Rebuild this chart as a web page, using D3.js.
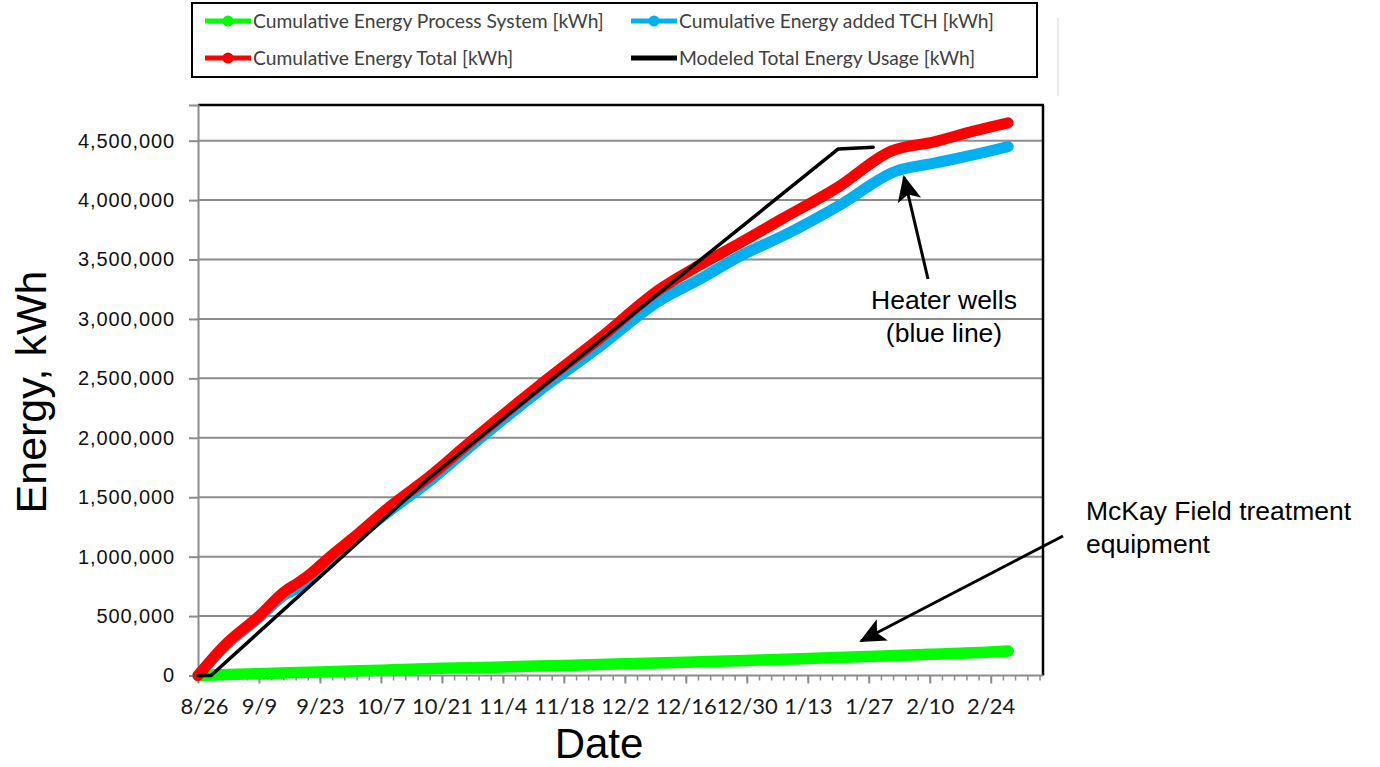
<!DOCTYPE html>
<html>
<head>
<meta charset="utf-8">
<script src="https://cdn.jsdelivr.net/npm/d3@7"></script>
<style>
  body { margin: 0; background: #fff; }
  svg { display: block; }
</style>
</head>
<body>
<svg id="chart" width="1380" height="767"></svg>
<script>
// ---- data (kWh, cumulative) ----
const seriesNames = [
  "Cumulative Energy Process System [kWh]",
  "Cumulative Energy added TCH [kWh]",
  "Cumulative Energy Total [kWh]",
  "Modeled Total Energy Usage [kWh]"
];
const seriesColors = ["#00ff00", "#00b0f0", "#ff0000", "#000000"];

const processDates = ["2014-08-26","2014-09-09","2014-09-23","2014-10-07","2014-10-21","2014-11-04","2014-11-18",
  "2014-12-02","2014-12-16","2014-12-30","2015-01-13","2015-01-27","2015-02-10","2015-02-24","2015-02-28"];
const processKWh = [0, 15000, 30000, 45000, 60000, 72000, 85000, 98000, 112000, 127000, 143000, 160000, 178000, 198000, 206000];

const tchDates = ["2014-08-26","2014-09-01","2014-09-09","2014-09-15","2014-09-18","2014-09-21","2014-09-25","2014-10-02",
  "2014-10-09","2014-10-18","2014-10-27","2014-11-12","2014-11-26","2014-12-10","2014-12-19","2014-12-28","2015-01-09",
  "2015-01-20","2015-02-02","2015-02-11","2015-02-20","2015-02-28"];
const tchKWh = [0, 240000, 485000, 680000, 735000, 815000, 955000, 1180000, 1385000, 1630000, 1910000, 2385000, 2760000,
  3155000, 3330000, 3520000, 3730000, 3950000, 4240000, 4310000, 4380000, 4450000];

const totalDates = ["2014-08-26","2014-09-01","2014-09-09","2014-09-15","2014-09-18","2014-09-21","2014-09-25","2014-10-02",
  "2014-10-09","2014-10-18","2014-10-27","2014-11-12","2014-11-26","2014-12-10","2014-12-19","2014-12-28","2015-01-07",
  "2015-01-20","2015-02-01","2015-02-11","2015-02-20","2015-02-28"];
const totalKWh = [0, 250000, 500000, 710000, 780000, 860000, 990000, 1200000, 1420000, 1670000, 1950000, 2430000, 2830000,
  3250000, 3450000, 3630000, 3840000, 4110000, 4410000, 4490000, 4580000, 4650000];

const modeledDates = ["2014-08-26","2014-08-29","2014-10-18","2015-01-20","2015-01-28"];
const modeledKWh = [0, 0, 1660000, 4430000, 4445000];

const xTickLabels = ["8/26","9/9","9/23","10/7","10/21","11/4","11/18","12/2","12/16","12/30","1/13","1/27","2/10","2/24"];
const yTickValues = [0, 500000, 1000000, 1500000, 2000000, 2500000, 3000000, 3500000, 4000000, 4500000];

// ---- layout ----
const plot = { left: 198, right: 1043, top: 105, bottom: 675.5 };
const svg = d3.select("#chart");
const parse = d3.timeParse("%Y-%m-%d");
const start = parse("2014-08-26");
const end = parse("2015-03-08");

const x = d3.scaleTime().domain([start, end]).range([plot.left, plot.right]);
const y = d3.scaleLinear().domain([0, 4800000]).range([plot.bottom, plot.top]);

// tick label "M/D" -> date in the season (Aug–Dec 2014, Jan–Mar 2015)
const labelDate = s => {
  const [m, d] = s.split("/").map(Number);
  return new Date(m >= 8 ? 2014 : 2015, m - 1, d);
};
const majorDates = xTickLabels.map(labelDate);
const minorDates = d3.range(0, 194, 2.8).map(k => d3.timeHour.offset(start, Math.round(k * 24)));

// ---- gridlines ----
svg.append("g")
  .selectAll("line")
  .data(yTickValues.filter(v => v > 0))
  .join("line")
  .attr("x1", plot.left).attr("x2", plot.right)
  .attr("y1", d => y(d)).attr("y2", d => y(d))
  .attr("stroke", "#8c8c8c").attr("stroke-width", 2);

// plot frame: top and right in black
svg.append("line").attr("x1", plot.left).attr("x2", plot.right + 1)
  .attr("y1", plot.top).attr("y2", plot.top).attr("stroke", "#000").attr("stroke-width", 2.5);
svg.append("line").attr("x1", plot.right).attr("x2", plot.right)
  .attr("y1", plot.top).attr("y2", plot.bottom).attr("stroke", "#000").attr("stroke-width", 2.5);

// ---- y axis ----
const yAxis = svg.append("g")
  .attr("transform", `translate(${plot.left},0)`)
  .call(d3.axisLeft(y).tickValues(yTickValues).tickFormat(d3.format(",")).tickSize(9).tickPadding(14));
yAxis.select(".domain").attr("stroke", "#8c8c8c").attr("stroke-width", 2);
yAxis.selectAll(".tick line").attr("stroke", "#8c8c8c").attr("stroke-width", 2);
yAxis.selectAll(".tick text")
  .attr("font-family", "'Liberation Sans', Arial, sans-serif")
  .attr("font-size", 20).attr("letter-spacing", 0.9).attr("fill", "#111");

// ---- x axis ----
const xMinor = svg.append("g")
  .attr("transform", `translate(0,${plot.bottom})`)
  .call(d3.axisBottom(x).tickValues(minorDates).tickSize(5).tickFormat(""));
xMinor.select(".domain").remove();
xMinor.selectAll(".tick line").attr("stroke", "#8c8c8c").attr("stroke-width", 1.5);

const xAxis = svg.append("g")
  .attr("transform", `translate(0,${plot.bottom})`)
  .call(d3.axisBottom(x).tickValues(majorDates).tickSize(8).tickPadding(15)
    .tickFormat((d, i) => xTickLabels[i]));
xAxis.select(".domain").attr("stroke", "#8c8c8c").attr("stroke-width", 2)
  .attr("d", `M${plot.left},0H${plot.right}`);
xAxis.selectAll(".tick line").attr("stroke", "#8c8c8c").attr("stroke-width", 2);
xAxis.selectAll(".tick text")
  .attr("font-family", "Lato, 'Open Sans', sans-serif")
  .attr("font-size", 22).attr("fill", "#1a1a1a")
  .attr("dx", (d, i) => i === 0 ? 6 : 0);

// ---- axis titles ----
svg.append("text")
  .attr("transform", "translate(46,392) rotate(-90)")
  .attr("text-anchor", "middle")
  .attr("font-family", "'Liberation Sans', Arial, sans-serif")
  .attr("font-size", 43).attr("fill", "#000")
  .text("Energy, kWh");
svg.append("text")
  .attr("x", 599).attr("y", 758)
  .attr("text-anchor", "middle")
  .attr("font-family", "'Liberation Sans', Arial, sans-serif")
  .attr("font-size", 42).attr("fill", "#000")
  .text("Date");

// ---- series lines ----
const toPoints = (dates, vals) => dates.map((d, i) => ({ date: parse(d), value: vals[i] }));
const smooth = d3.line().curve(d3.curveMonotoneX).x(d => x(d.date)).y(d => y(d.value));
const straight = d3.line().x(d => x(d.date)).y(d => y(d.value));

const series = [
  { pts: toPoints(processDates, processKWh), color: seriesColors[0], width: 11.5, gen: smooth },
  { pts: toPoints(tchDates, tchKWh), color: seriesColors[1], width: 11, gen: smooth },
  { pts: toPoints(totalDates, totalKWh), color: seriesColors[2], width: 11, gen: smooth },
  { pts: toPoints(modeledDates, modeledKWh), color: seriesColors[3], width: 3.5, gen: straight }
];

svg.append("g")
  .selectAll("path")
  .data(series)
  .join("path")
  .attr("d", d => d.gen(d.pts))
  .attr("fill", "none")
  .attr("stroke", d => d.color)
  .attr("stroke-width", d => d.width)
  .attr("stroke-linecap", "round")
  .attr("stroke-linejoin", "round");

// ---- legend ----
const legend = svg.append("g");
legend.append("rect")
  .attr("x", 192).attr("y", 3).attr("width", 845).attr("height", 74)
  .attr("fill", "#fff").attr("stroke", "#000").attr("stroke-width", 2);
svg.append("line").attr("x1", 1058).attr("x2", 1058).attr("y1", 18).attr("y2", 96)
  .attr("stroke", "#e2e2e2").attr("stroke-width", 1.5);

const legendPos = [
  { x: 205, y: 21 }, { x: 631, y: 21 }, { x: 205, y: 58 }, { x: 631, y: 58 }
];
const items = legend.selectAll("g.item")
  .data(seriesNames.map((name, i) => ({ name, color: seriesColors[i], pos: legendPos[i], marker: i < 3 })))
  .join("g")
  .attr("class", "item")
  .attr("transform", d => `translate(${d.pos.x},${d.pos.y})`);
items.append("line")
  .attr("x1", 0).attr("x2", 46).attr("y1", 0).attr("y2", 0)
  .attr("stroke", d => d.color).attr("stroke-width", 5);
items.filter(d => d.marker).append("circle")
  .attr("cx", 23).attr("cy", 0).attr("r", 5.5).attr("fill", d => d.color);
items.append("text")
  .attr("x", 48).attr("y", 0).attr("dy", "0.35em")
  .attr("font-family", "Lato, 'Open Sans', sans-serif")
  .attr("font-size", 19.3).attr("fill", "#404040")
  .text(d => d.name);

// ---- annotations ----
const defs = svg.append("defs");
defs.append("marker")
  .attr("id", "head")
  .attr("viewBox", "0 -12 26 24")
  .attr("refX", 24).attr("refY", 0)
  .attr("markerUnits", "userSpaceOnUse")
  .attr("markerWidth", 26).attr("markerHeight", 24)
  .attr("orient", "auto")
  .append("path")
  .attr("d", "M26,0L0,-12L6,0L0,12Z")
  .attr("fill", "#000");

svg.append("line")
  .attr("x1", 928).attr("y1", 279).attr("x2", 904).attr("y2", 177)
  .attr("stroke", "#000").attr("stroke-width", 3).attr("marker-end", "url(#head)");
svg.append("line")
  .attr("x1", 1063).attr("y1", 536).attr("x2", 861).attr("y2", 641)
  .attr("stroke", "#000").attr("stroke-width", 3).attr("marker-end", "url(#head)");

const note = (txt, xx, yy, anchor) => svg.append("text")
  .attr("x", xx).attr("y", yy).attr("text-anchor", anchor)
  .attr("font-family", "'Liberation Sans', Arial, sans-serif")
  .attr("font-size", 26.5).attr("fill", "#000").text(txt);
note("Heater wells", 944, 309, "middle");
note("(blue line)", 944, 342, "middle");
note("McKay Field treatment", 1086, 520, "start");
note("equipment", 1086, 553, "start");
</script>
</body>
</html>
